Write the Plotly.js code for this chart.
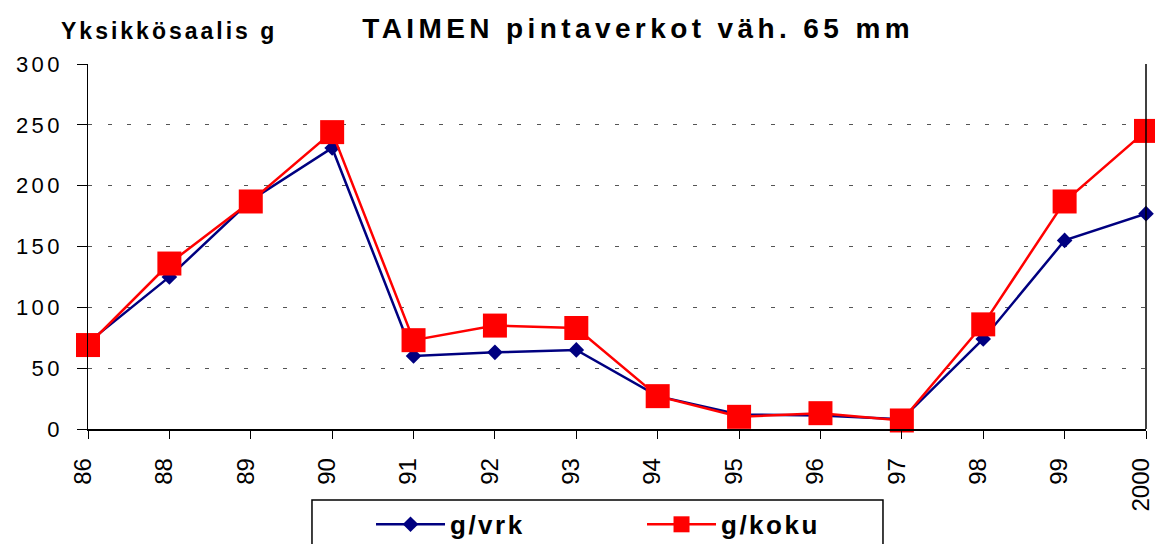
<!DOCTYPE html>
<html>
<head>
<meta charset="utf-8">
<script src="https://cdn.plot.ly/plotly-3.0.1.min.js"></script>
<style>
html,body{margin:0;padding:0;background:#fff;}
#chart{width:1155px;height:544px;}
.gtitle{letter-spacing:4.4px;}
.annotation-text{letter-spacing:3px;}
.ytick text{letter-spacing:3.5px;}
.legendtext{letter-spacing:2.5px;}
</style>
</head>
<body>
<div id="chart"></div>
<script>
const years = ["86","88","89","90","91","92","93","94","95","96","97","98","99","2000"];
const gVrk  = [71, 125, 188, 231, 60, 63, 65, 27, 12, 11, 8, 74, 155, 177];
const gKoku = [69, 136, 187, 244, 73, 85, 83, 27, 10, 13, 7, 86, 187, 245];

const idx = years.map((_, i) => i);

const traces = [
  {
    x: idx, y: gVrk, name: "g/vrk", type: "scatter", mode: "lines+markers",
    line: {color: "#000080", width: 2.5},
    marker: {symbol: "diamond", size: 12, color: "#000080"},
    cliponaxis: false
  },
  {
    x: idx, y: gKoku, name: "g/koku", type: "scatter", mode: "lines+markers",
    line: {color: "#FF0000", width: 2.5},
    marker: {symbol: "square", size: 24, color: "#FF0000"},
    cliponaxis: false
  }
];

const layout = {
  width: 1155, height: 544,
  margin: {l: 88, r: 9, t: 64, b: 115, autoexpand: false},
  paper_bgcolor: "#fff", plot_bgcolor: "#fff",
  font: {family: "Liberation Sans, Arial, sans-serif", color: "#000"},
  title: {
    text: "<b>TAIMEN pintaverkot väh. 65 mm</b>",
    font: {size: 28, family: "Liberation Sans, Arial, sans-serif", color: "#000"},
    x: 0.52, xref: "paper", xanchor: "center",
    y: 0.948, yref: "container", yanchor: "middle"
  },
  xaxis: {
    range: [0, 13], tickmode: "array", tickvals: idx, ticktext: years,
    tickangle: -90, ticks: "outside", ticklen: 8, tickcolor: "#000", tickwidth: 1,
    showgrid: false, zeroline: false,
    showline: true, linecolor: "#000", linewidth: 1.5,
    tickfont: {size: 24, color: "#000"}, ticklabelstandoff: 10,
    ticklabelshift: -5, ticklabeloverflow: "allow"
  },
  yaxis: {
    range: [0, 300], tickvals: [0, 50, 100, 150, 200, 250, 300],
    ticks: "outside", ticklen: 10, tickcolor: "#000", tickwidth: 1,
    showgrid: true, gridcolor: "#555", gridwidth: 1, griddash: "4px,15.5px",
    zeroline: false, showline: true, linecolor: "#000", linewidth: 1.5,
    tickfont: {size: 22, color: "#000"}, ticklabelstandoff: 9
  },
  shapes: [
    {type: "line", xref: "x domain", yref: "y domain", x0: 1, x1: 1, y0: 0, y1: 1,
     line: {color: "#000", width: 1.5}},
    {type: "rect", xref: "paper", yref: "paper", x0: 0.2117, x1: 0.7514, y0: -0.1945, y1: -0.45,
     line: {color: "#000", width: 1.5}, fillcolor: "rgba(0,0,0,0)"}
  ],
  annotations: [
    {text: "<b>Yksikkösaalis g</b>", xref: "paper", yref: "paper",
     x: -0.027, y: 1.09, xanchor: "left", yanchor: "middle", showarrow: false,
     font: {size: 23, color: "#000"}}
  ],
  showlegend: true,
  legend: {
    orientation: "h", x: 0.2675, xanchor: "left", y: -0.197, yanchor: "top",
    borderwidth: 0, bgcolor: "rgba(0,0,0,0)",
    font: {size: 26, color: "#000", weight: "bold"},
    entrywidth: 187, entrywidthmode: "pixels",
    itemwidth: 69
  }
};

Plotly.newPlot("chart", traces, layout, {displayModeBar: false, staticPlot: true});
</script>
</body>
</html>
